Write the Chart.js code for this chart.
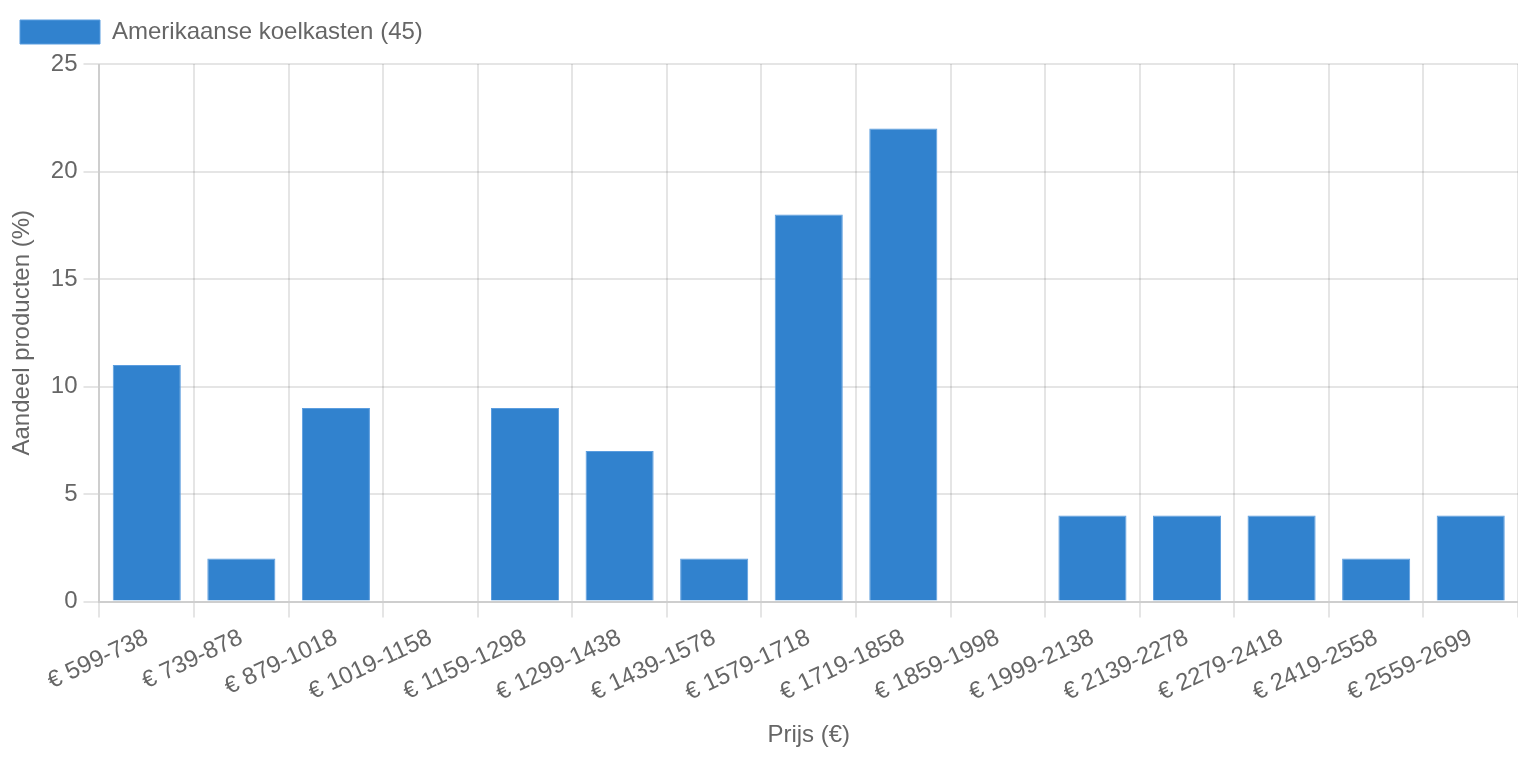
<!DOCTYPE html>
<html>
<head>
<meta charset="utf-8">
<script src="https://cdn.jsdelivr.net/npm/chart.js@4/dist/chart.umd.min.js"></script>
<style>
  html, body { margin: 0; padding: 0; background: #fff; overflow: hidden; }
  #wrap { position: absolute; left: 0; top: 0; width: 759px; height: 379px; transform: scale(2); transform-origin: 0 0; }
  canvas { display: block; }
</style>
</head>
<body>
<div id="wrap"><canvas id="c" width="759" height="379"></canvas></div>
<script>
const categories = ["€ 599-738", "€ 739-878", "€ 879-1018", "€ 1019-1158", "€ 1159-1298", "€ 1299-1438", "€ 1439-1578", "€ 1579-1718", "€ 1719-1858", "€ 1859-1998", "€ 1999-2138", "€ 2139-2278", "€ 2279-2418", "€ 2419-2558", "€ 2559-2699"];
const shares = [11, 2, 9, 0, 9, 7, 2, 18, 22, 0, 4, 4, 4, 2, 4];
const seriesLabel = "Amerikaanse koelkasten (45)";
const yTitle = "Aandeel producten (%)";
const xTitle = "Prijs (€)";

Chart.defaults.font.family = "'Liberation Sans', Arial, Helvetica, sans-serif";
Chart.defaults.font.size = 12;
Chart.defaults.color = "#666";

new Chart(document.getElementById('c'), {
  type: 'bar',
  data: {
    labels: categories,
    datasets: [{
      label: seriesLabel,
      data: shares,
      backgroundColor: '#3182CE',
      borderColor: '#5b9ddf',
      borderWidth: 0.5
    }]
  },
  options: {
    responsive: false,
    devicePixelRatio: 2,
    animation: false,
    plugins: {
      legend: { align: 'start' },
      tooltip: { enabled: false }
    },
    scales: {
      x: {
        title: { display: true, text: xTitle }
      },
      y: {
        beginAtZero: true,
        max: 25,
        ticks: { stepSize: 5 },
        title: { display: true, text: yTitle }
      }
    }
  }
});
</script>
</body>
</html>
